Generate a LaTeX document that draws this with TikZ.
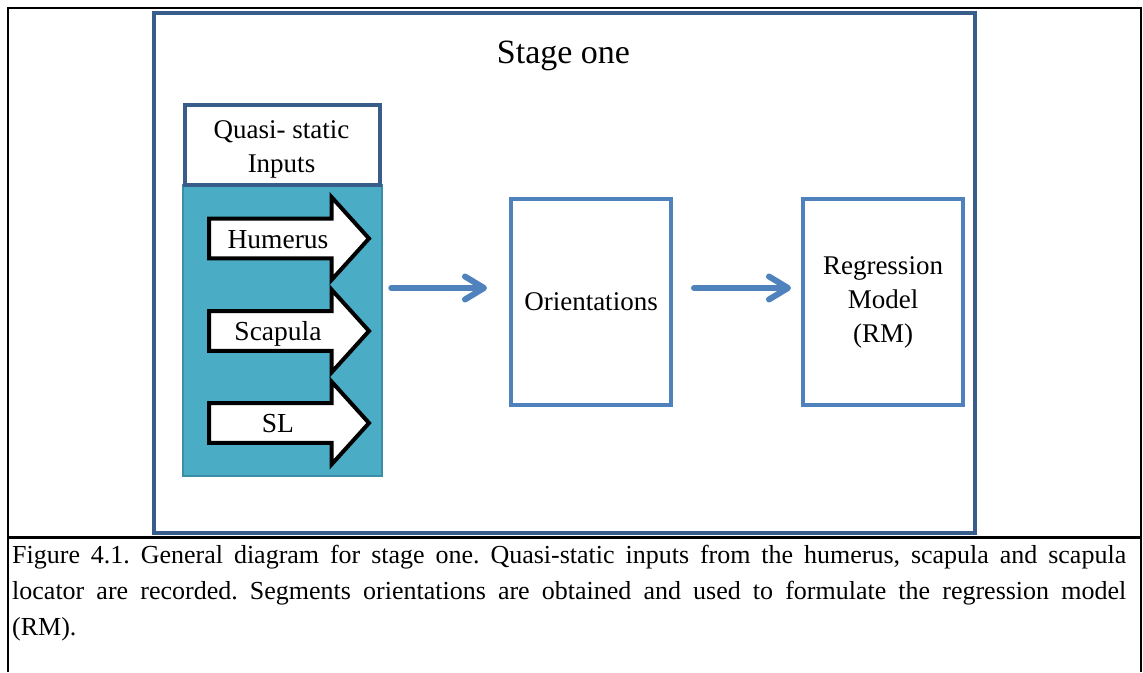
\documentclass[tikz,border=0pt]{standalone}
\usepackage{fontspec}
\setmainfont{Liberation Serif}
\usetikzlibrary{arrows.meta}

\definecolor{frameblue}{HTML}{385D8A}
\definecolor{boxblue}{HTML}{4F81BD}
\definecolor{panelteal}{HTML}{4BACC6}
\definecolor{panelrim}{HTML}{3B8EA5}

\tikzset{
  rule/.style={line width=2.5pt, black},
  stageframe/.style={draw=frameblue, line width=4pt, rectangle, inner sep=0pt},
  headbox/.style={draw=frameblue, line width=4pt, fill=white, rectangle, inner sep=0pt},
  panel/.style={draw=panelrim, line width=1.5pt, fill=panelteal, rectangle, inner sep=0pt},
  stepbox/.style={draw=boxblue, line width=4pt, rectangle, inner sep=0pt,
                  minimum width=160pt, minimum height=206pt,
                  font=\fontsize{27}{34}\selectfont, align=center},
  blockarrow/.style={draw=black, line width=4pt, fill=white, line join=miter},
  arrowtext/.style={font=\fontsize{27.5}{30}\selectfont, anchor=base, inner sep=0pt},
  flow/.style={draw=boxblue, line width=6pt, line cap=round,
               -{Straight Barb[length=19pt, width=23pt, round]}},
}

\begin{document}
\begin{tikzpicture}[x=1pt, y=-1pt]
\useasboundingbox (0,0) rectangle (1143,672);

% table rules round the figure and its caption
\draw[rule] (8,672) -- (8,8) -- (1141,8) -- (1141,672);
\draw[rule] (8,537.5) -- (1141,537.5);

% stage frame and title
\node[stageframe, minimum width=820.7pt, minimum height=519.5pt] (stage) at (564.15,272.75) {};
\node[anchor=base, inner sep=0pt, font=\fontsize{34}{40}\selectfont] (title) at (563.5,63) {Stage one};

% inputs panel with its heading
\node[panel, minimum width=199pt, minimum height=291pt] (inputs) at (282.5,330.5) {};
\node[headbox, minimum width=194.7pt, minimum height=80.5pt] (quasi) at (282.65,144.75) {};
\node[inner sep=0pt, align=center, font=\fontsize{27}{34}\selectfont] (quasitext) at (281.5,149.4) {Quasi- static\\Inputs};

% block arrows for the three inputs
\foreach \c/\name/\label in {238.5/hum/Humerus, 331/scap/Scapula, 423/sl/SL}{
  \draw[blockarrow] (209,\c-19.8) -- (331.5,\c-19.8) -- (331.5,\c-41.5) -- (369,\c)
        -- (331.5,\c+41.5) -- (331.5,\c+19.8) -- (209,\c+19.8) -- cycle;
  \node[arrowtext] (\name) at (278,\c+9.5) {\label};
}

% processing steps
\node[stepbox] (orient) at (591,302) {Orientations};
\node[stepbox] (rm) at (883,302) {Regression\\Model\\(RM)};

% connectors
\coordinate (row) at (0,288);
\draw[flow] ([xshift=8.5pt]inputs.east |- row) -- ([xshift=-22pt]orient.west |- row);
\draw[flow] ([xshift=21pt]orient.east |- row) -- ([xshift=-10pt]rm.west |- row);

% caption
\node[anchor=base west, inner sep=0pt] (caption) at (12,563) {\vtop{\hsize=1114pt
  \fontsize{26}{36}\selectfont\frenchspacing
  \noindent\makebox[\hsize][s]{Figure 4.1. General diagram for stage one. Quasi-static inputs from the humerus, scapula and scapula}\par
  \noindent\makebox[\hsize][s]{locator are recorded. Segments orientations are obtained and used to formulate the regression model}\par
  \noindent (RM).}};
\end{tikzpicture}
\end{document}
